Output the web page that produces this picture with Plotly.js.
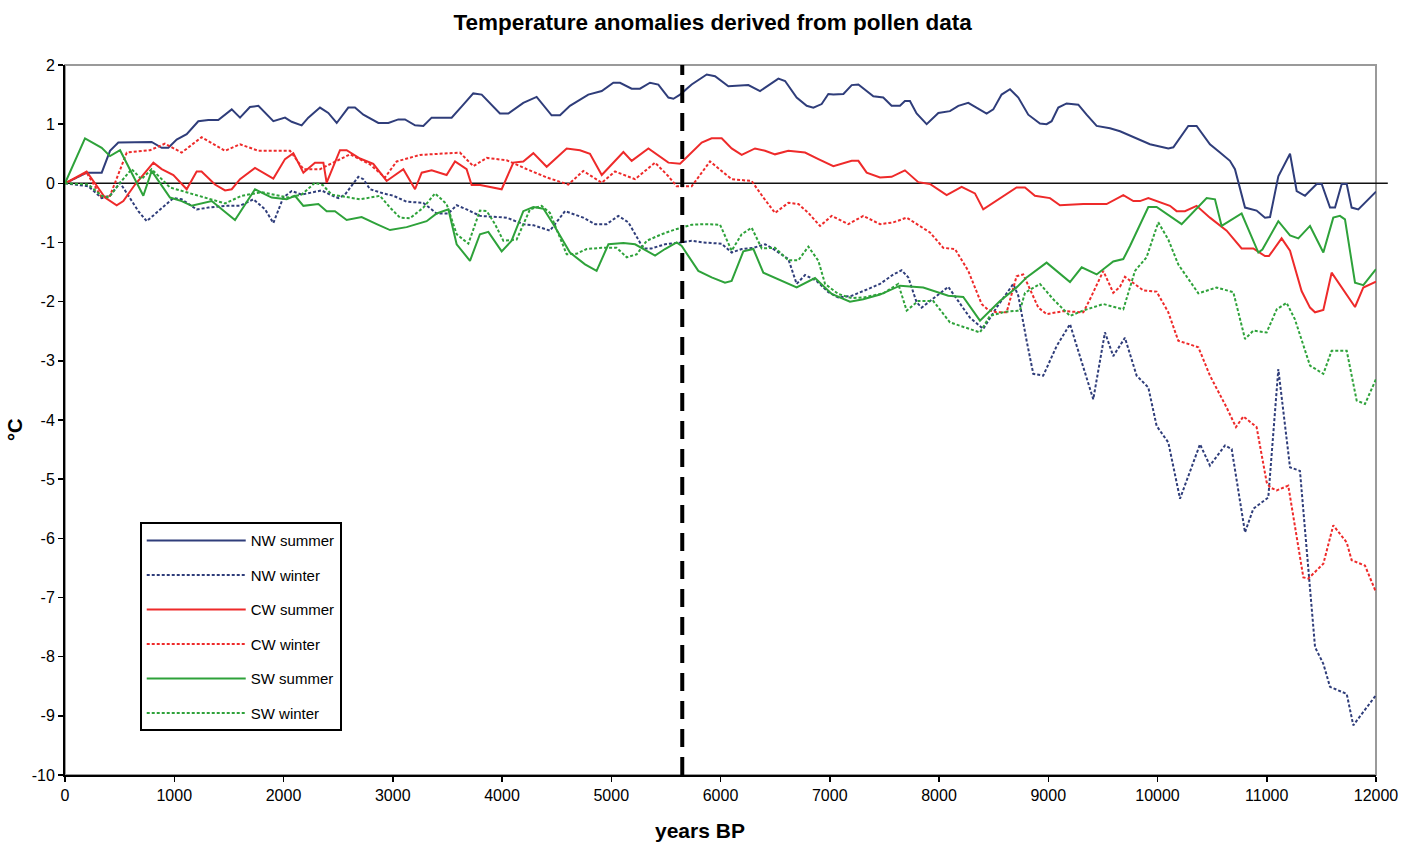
<!DOCTYPE html>
<html>
<head>
<meta charset="utf-8">
<script src="https://cdn.plot.ly/plotly-3.0.1.min.js"></script>
<style>html,body{margin:0;padding:0;background:#fff;}#chart{width:1419px;height:843px;}</style>
</head>
<body>
<div id="chart"></div>
<script>
// [years BP, anomaly °C]
const nwSummer = [[0,0],[198,0.18],[336,0.18],[412,0.55],[488,0.69],[793,0.70],[885,0.60],[946,0.60],[1022,0.74],[1114,0.83],[1220,1.05],[1312,1.07],[1403,1.07],[1526,1.25],[1602,1.11],[1693,1.29],[1770,1.31],[1907,1.05],[2014,1.11],[2075,1.04],[2166,0.98],[2227,1.11],[2334,1.28],[2410,1.19],[2487,1.02],[2593,1.28],[2654,1.28],[2731,1.16],[2868,1.02],[2960,1.02],[3051,1.08],[3112,1.08],[3204,0.98],[3280,0.97],[3356,1.11],[3539,1.11],[3646,1.33],[3737,1.52],[3814,1.50],[3981,1.18],[4058,1.18],[4195,1.36],[4317,1.46],[4454,1.15],[4531,1.15],[4622,1.31],[4790,1.50],[4913,1.56],[5019,1.70],[5080,1.70],[5187,1.60],[5263,1.60],[5355,1.70],[5431,1.67],[5523,1.45],[5569,1.43],[5630,1.50],[5736,1.67],[5874,1.84],[5950,1.81],[6072,1.64],[6255,1.66],[6362,1.56],[6530,1.77],[6591,1.73],[6697,1.45],[6789,1.31],[6850,1.28],[6926,1.34],[6987,1.51],[7033,1.50],[7125,1.51],[7201,1.66],[7262,1.67],[7399,1.47],[7490,1.45],[7566,1.31],[7643,1.31],[7688,1.39],[7734,1.39],[7795,1.18],[7887,1.00],[7994,1.19],[8100,1.22],[8177,1.31],[8268,1.36],[8436,1.18],[8497,1.25],[8573,1.50],[8650,1.59],[8726,1.45],[8817,1.16],[8924,1.01],[8985,1.00],[9031,1.05],[9092,1.28],[9168,1.35],[9275,1.33],[9351,1.16],[9443,0.97],[9565,0.93],[9657,0.88],[9931,0.66],[10099,0.59],[10145,0.61],[10282,0.97],[10358,0.97],[10480,0.66],[10572,0.52],[10663,0.38],[10709,0.24],[10801,-0.41],[10907,-0.46],[10984,-0.58],[11030,-0.57],[11106,0.12],[11213,0.50],[11274,-0.13],[11350,-0.21],[11457,-0.01],[11503,-0.01],[11579,-0.41],[11625,-0.41],[11686,-0.01],[11732,-0.01],[11777,-0.41],[11838,-0.44],[12000,-0.14]];

const nwWinter = [[0,0],[214,-0.05],[336,-0.25],[412,-0.21],[504,0.01],[671,-0.47],[748,-0.64],[854,-0.47],[992,-0.25],[1068,-0.27],[1205,-0.44],[1312,-0.41],[1465,-0.38],[1602,-0.38],[1724,-0.27],[1831,-0.44],[1907,-0.67],[1998,-0.24],[2075,-0.13],[2166,-0.19],[2242,-0.16],[2349,-0.12],[2426,-0.19],[2502,-0.25],[2563,-0.19],[2685,0.11],[2731,0.07],[2792,-0.10],[2914,-0.17],[3005,-0.21],[3127,-0.31],[3280,-0.33],[3402,-0.51],[3509,-0.51],[3585,-0.37],[3676,-0.44],[3798,-0.55],[4043,-0.58],[4195,-0.69],[4290,-0.71],[4439,-0.80],[4577,-0.47],[4744,-0.58],[4852,-0.69],[4958,-0.69],[5065,-0.55],[5157,-0.66],[5294,-1.10],[5370,-1.10],[5492,-1.03],[5630,-1.00],[5736,-0.97],[5843,-1.00],[6011,-1.02],[6102,-1.17],[6194,-1.11],[6301,-1.09],[6408,-1.03],[6484,-1.11],[6621,-1.28],[6697,-1.70],[6774,-1.55],[6880,-1.65],[6987,-1.84],[7079,-1.93],[7201,-1.90],[7307,-1.82],[7460,-1.70],[7582,-1.54],[7658,-1.47],[7719,-1.59],[7795,-2.01],[7841,-2.10],[7950,-1.95],[8085,-1.75],[8180,-2.00],[8283,-2.27],[8405,-2.46],[8527,-2.10],[8680,-1.70],[8726,-1.90],[8802,-2.66],[8863,-3.22],[8954,-3.25],[9077,-2.75],[9199,-2.38],[9290,-2.92],[9412,-3.65],[9519,-2.52],[9595,-2.92],[9702,-2.61],[9809,-3.25],[9916,-3.45],[9992,-4.10],[10099,-4.38],[10206,-5.33],[10389,-4.41],[10480,-4.77],[10618,-4.43],[10679,-4.49],[10801,-5.90],[10877,-5.50],[11014,-5.31],[11106,-3.14],[11213,-4.80],[11304,-4.86],[11442,-7.84],[11518,-8.12],[11579,-8.51],[11732,-8.63],[11792,-9.16],[12000,-8.65]];

const cwSummer = [[0,0],[198,0.20],[366,-0.24],[473,-0.37],[534,-0.30],[641,-0.02],[809,0.35],[885,0.24],[992,0.14],[1114,-0.10],[1205,0.20],[1250,0.20],[1373,-0.02],[1465,-0.12],[1526,-0.10],[1602,0.07],[1739,0.26],[1907,0.08],[2014,0.41],[2090,0.51],[2182,0.18],[2288,0.35],[2365,0.35],[2395,0.01],[2517,0.56],[2578,0.56],[2700,0.42],[2822,0.33],[2944,0.04],[3097,0.24],[3204,-0.10],[3265,0.18],[3356,0.22],[3493,0.14],[3570,0.37],[3676,0.24],[3722,-0.03],[3800,-0.03],[3997,-0.10],[4104,0.35],[4195,0.37],[4287,0.51],[4409,0.28],[4592,0.59],[4714,0.56],[4805,0.50],[4913,0.14],[5111,0.53],[5187,0.38],[5340,0.59],[5523,0.35],[5630,0.33],[5828,0.69],[5919,0.76],[6011,0.76],[6102,0.59],[6194,0.48],[6316,0.59],[6408,0.55],[6499,0.49],[6621,0.55],[6774,0.52],[6896,0.41],[7033,0.29],[7201,0.38],[7262,0.38],[7338,0.18],[7460,0.10],[7566,0.11],[7688,0.22],[7810,0.02],[7917,-0.01],[8070,-0.20],[8207,-0.06],[8329,-0.17],[8405,-0.44],[8710,-0.07],[8787,-0.07],[8878,-0.21],[9016,-0.25],[9107,-0.37],[9321,-0.35],[9534,-0.35],[9687,-0.20],[9779,-0.30],[9840,-0.30],[9916,-0.25],[10114,-0.38],[10175,-0.47],[10251,-0.47],[10358,-0.38],[10480,-0.58],[10633,-0.80],[10770,-1.10],[10877,-1.10],[10984,-1.23],[11020,-1.23],[11136,-0.93],[11213,-1.14],[11319,-1.82],[11396,-2.10],[11442,-2.18],[11518,-2.14],[11594,-1.51],[11808,-2.09],[11884,-1.76],[12000,-1.66]];

const cwWinter = [[0,0],[198,0.18],[336,-0.24],[412,-0.21],[565,0.52],[778,0.56],[915,0.67],[1068,0.52],[1251,0.78],[1465,0.55],[1602,0.66],[1770,0.55],[2060,0.55],[2182,0.24],[2334,0.24],[2426,0.32],[2609,0.49],[2792,0.32],[2929,0.10],[3036,0.37],[3249,0.48],[3615,0.52],[3737,0.29],[3860,0.43],[4043,0.39],[4226,0.24],[4409,0.10],[4607,-0.02],[4744,0.21],[4913,0.01],[5035,0.20],[5218,0.07],[5401,0.35],[5523,0.12],[5599,-0.05],[5736,-0.05],[5904,0.37],[6102,0.07],[6285,0.04],[6392,-0.24],[6499,-0.50],[6621,-0.33],[6713,-0.35],[6804,-0.50],[6911,-0.72],[7018,-0.55],[7170,-0.69],[7307,-0.55],[7460,-0.69],[7582,-0.66],[7704,-0.58],[7917,-0.83],[8039,-1.09],[8146,-1.11],[8268,-1.48],[8390,-2.04],[8451,-2.14],[8527,-2.18],[8619,-2.18],[8710,-1.57],[8771,-1.54],[8909,-2.10],[8985,-2.21],[9138,-2.16],[9321,-2.18],[9382,-1.96],[9504,-1.48],[9595,-1.85],[9656,-1.75],[9702,-1.58],[9794,-1.70],[9870,-1.81],[9992,-1.83],[10099,-2.18],[10190,-2.66],[10282,-2.72],[10374,-2.77],[10480,-3.25],[10633,-3.79],[10718,-4.12],[10786,-3.94],[10907,-4.12],[10999,-5.05],[11030,-5.14],[11091,-5.19],[11197,-5.11],[11335,-6.66],[11380,-6.68],[11518,-6.43],[11609,-5.78],[11732,-6.07],[11777,-6.37],[11899,-6.46],[12000,-6.91]];

const swSummer = [[0,0],[183,0.76],[336,0.60],[412,0.46],[504,0.56],[580,0.28],[717,-0.21],[793,0.21],[961,-0.24],[1068,-0.30],[1159,-0.38],[1343,-0.30],[1440,-0.45],[1556,-0.62],[1739,-0.10],[1892,-0.24],[2029,-0.27],[2105,-0.21],[2182,-0.38],[2319,-0.35],[2395,-0.47],[2471,-0.47],[2578,-0.62],[2715,-0.57],[2853,-0.69],[2975,-0.79],[3127,-0.74],[3310,-0.64],[3402,-0.51],[3509,-0.44],[3585,-1.03],[3707,-1.31],[3798,-0.86],[3875,-0.82],[3997,-1.15],[4088,-0.97],[4195,-0.47],[4287,-0.40],[4380,-0.43],[4470,-0.69],[4622,-1.17],[4760,-1.37],[4866,-1.48],[4974,-1.03],[5111,-1.01],[5218,-1.03],[5401,-1.22],[5492,-1.11],[5599,-1.00],[5645,-1.06],[5797,-1.48],[5919,-1.59],[6041,-1.68],[6102,-1.65],[6209,-1.15],[6301,-1.11],[6392,-1.51],[6530,-1.62],[6697,-1.76],[6865,-1.60],[7018,-1.87],[7185,-2.00],[7307,-1.96],[7460,-1.88],[7643,-1.73],[7856,-1.76],[8085,-1.90],[8222,-1.92],[8375,-2.32],[8558,-1.99],[8710,-1.76],[8802,-1.59],[8985,-1.34],[9199,-1.67],[9306,-1.42],[9443,-1.54],[9595,-1.32],[9687,-1.28],[9748,-1.06],[9916,-0.40],[9992,-0.40],[10221,-0.69],[10358,-0.42],[10450,-0.25],[10526,-0.27],[10587,-0.72],[10770,-0.51],[10923,-1.17],[10960,-1.12],[11106,-0.64],[11213,-0.88],[11289,-0.93],[11396,-0.72],[11518,-1.17],[11609,-0.58],[11670,-0.55],[11716,-0.61],[11808,-1.68],[11884,-1.72],[12000,-1.45]];

const swWinter = [[0,0],[214,-0.02],[336,-0.21],[400,-0.24],[500,0.00],[610,0.24],[700,0.07],[793,0.24],[961,-0.07],[1129,-0.16],[1282,-0.24],[1465,-0.34],[1617,-0.21],[1800,-0.15],[2044,-0.24],[2166,-0.19],[2288,0.01],[2360,-0.03],[2441,-0.19],[2700,-0.27],[2883,-0.21],[2975,-0.41],[3066,-0.58],[3158,-0.59],[3280,-0.41],[3387,-0.17],[3493,-0.35],[3585,-0.86],[3692,-1.02],[3798,-0.46],[3860,-0.47],[3936,-0.69],[4012,-0.97],[4134,-0.95],[4256,-0.44],[4363,-0.38],[4439,-0.50],[4592,-1.20],[4683,-1.19],[4775,-1.11],[4913,-1.09],[5050,-1.09],[5142,-1.25],[5233,-1.20],[5325,-0.97],[5462,-0.86],[5584,-0.78],[5736,-0.70],[5858,-0.69],[5996,-0.70],[6102,-1.14],[6194,-0.86],[6285,-0.75],[6377,-1.10],[6499,-1.09],[6621,-1.30],[6713,-1.30],[6804,-1.07],[6896,-1.31],[6957,-1.70],[7079,-1.87],[7201,-1.94],[7307,-1.93],[7490,-1.86],[7627,-1.70],[7704,-2.15],[7810,-1.99],[7948,-1.99],[8100,-2.35],[8375,-2.52],[8466,-2.24],[8604,-2.17],[8741,-2.15],[8787,-1.85],[8924,-1.70],[9046,-1.96],[9199,-2.24],[9321,-2.15],[9504,-2.04],[9687,-2.13],[9794,-1.48],[9900,-1.25],[10007,-0.66],[10099,-0.95],[10190,-1.37],[10374,-1.86],[10541,-1.76],[10694,-1.84],[10801,-2.63],[10877,-2.49],[10999,-2.52],[11091,-2.13],[11182,-2.02],[11258,-2.30],[11396,-3.08],[11518,-3.22],[11594,-2.83],[11732,-2.83],[11823,-3.67],[11899,-3.73],[12000,-3.31]];

const seriesNames = ['NW summer','NW winter','CW summer','CW winter','SW summer','SW winter'];
const seriesData = [nwSummer, nwWinter, cwSummer, cwWinter, swSummer, swWinter];
const transitionYear = 5650;
const yTickValues = [2,1,0,-1,-2,-3,-4,-5,-6,-7,-8,-9,-10];
const yTickLabels = ['2','1','0','-1','-2','-3','-4','-5','-6','-7','-8','-9','-10'];

const colors = ['#2f3d7a','#2f3d7a','#ee2a2a','#ee2a2a','#2ea23a','#2ea23a'];
const dashes = ['solid','3px,2px','solid','3px,2px','solid','3px,2px'];

const traces = seriesData.map((d, i) => ({
  type: 'scatter', mode: 'lines', name: seriesNames[i],
  x: d.map(p => p[0]), y: d.map(p => p[1]),
  line: {color: colors[i], width: 2, dash: dashes[i]},
  legendgroup: 'g' + i
}));

const font = 'Liberation Sans, Arial, sans-serif';
const layout = {
  width: 1419, height: 843,
  margin: {l: 65, r: 43, t: 65, b: 68},
  paper_bgcolor: '#fff', plot_bgcolor: '#fff',
  font: {family: font, color: '#000', size: 16},
  title: {text: '<b>Temperature anomalies derived from pollen data</b>', x: 0.494, xanchor: 'center', y: 0.974, yanchor: 'middle', xref: 'paper', font: {size: 22.5, family: font}},
  xaxis: {
    range: [0, 12000], dtick: 1000, tick0: 0, tickformat: 'd', showgrid: false, zeroline: false,
    showline: true, linecolor: '#000', linewidth: 2, ticks: 'outside', ticklen: 5, tickcolor: '#000', tickwidth: 1.5,
    tickfont: {size: 16}
  },
  yaxis: {
    range: [-10, 2], tickmode: 'array', tickvals: yTickValues, ticktext: yTickLabels, showgrid: false, zeroline: false,
    showline: true, linecolor: '#000', linewidth: 2, ticks: 'outside', ticklen: 5, tickcolor: '#000', tickwidth: 1.5,
    tickfont: {size: 16}
  },
  annotations: [
    {text: '<b>years BP</b>', xref: 'paper', yref: 'paper', x: 0.484, y: -0.0775, xanchor: 'center', yanchor: 'middle', showarrow: false, font: {size: 21}},
    {text: '<b>°C</b>', xref: 'paper', yref: 'paper', x: -0.038, y: 0.486, xanchor: 'center', yanchor: 'middle', showarrow: false, textangle: -90, font: {size: 20}}
  ],
  showlegend: true,
  legend: {
    x: 0.057, y: 0.356, xanchor: 'left', yanchor: 'top',
    bgcolor: '#fff', bordercolor: '#000', borderwidth: 2,
    font: {size: 15}, tracegroupgap: 12, itemwidth: 99
  },
  shapes: [
    {type: 'rect', xref: 'paper', yref: 'paper', x0: 0, x1: 1, y0: 0, y1: 1, line: {color: '#9a9a9a', width: 2}, layer: 'below'},
    {type: 'line', xref: 'paper', yref: 'y', x0: 0, x1: 1.009, y0: 0, y1: 0, line: {color: '#111', width: 1.5}, layer: 'below'},
    {type: 'line', xref: 'x', yref: 'paper', x0: transitionYear, x1: transitionYear, y0: 0, y1: 1, line: {color: '#000', width: 4, dash: '18px,10px'}}
  ]
};

Plotly.newPlot('chart', traces, layout, {displayModeBar: false, staticPlot: true});
</script>
</body>
</html>
